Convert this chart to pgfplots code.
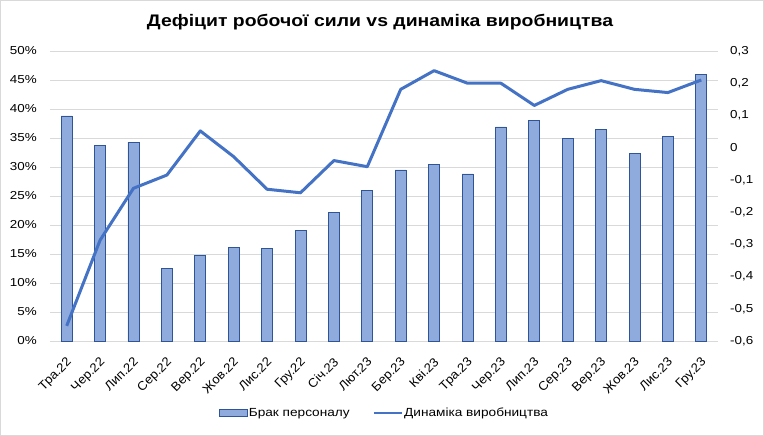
\documentclass[border=0pt]{standalone}
\usepackage{pgfplots}
\pgfplotsset{compat=1.18}
\usepackage{fontspec}
\setmainfont{Liberation Sans}[FakeStretch=1.16]
\newfontfamily\xlab{Liberation Sans}[FakeStretch=1.05]
\definecolor{barfill}{RGB}{143,170,220}
\definecolor{baredge}{RGB}{47,85,151}
\definecolor{linec}{RGB}{68,114,196}
\definecolor{gridc}{RGB}{217,217,217}
\pgfplotsset{
  barleg/.style={legend image code/.code={\draw[##1] (0bp,-3.5bp) rectangle (28bp,3.5bp);}},
  lineleg/.style={legend image code/.code={\draw[##1] (0bp,0bp) -- (28bp,0bp);}},
}
\begin{document}
\begin{tikzpicture}
\useasboundingbox (-50bp,-95bp) rectangle (714bp,341bp);
\draw[gridc, line width=1bp] (-49.5bp,-94.5bp) rectangle (713.5bp,340.5bp);
\node[font=\fontsize{16.8}{19}\selectfont\bfseries, anchor=base] at (330bp,314bp) {Дефіцит робочої сили vs динаміка виробництва};
\begin{axis}[
  scale only axis, width=668bp, height=290bp,
  xmin=-0.5, xmax=19.5, ymin=0, ymax=50,
  xtick={0,...,19},
  xticklabels={Тра.22,Чер.22,Лип.22,Сер.22,Вер.22,Жов.22,Лис.22,Гру.22,Січ.23,Лют.23,Бер.23,Кві.23,Тра.23,Чер.23,Лип.23,Сер.23,Вер.23,Жов.23,Лис.23,Гру.23},
  x tick label style={font=\xlab\fontsize{12.5}{14}\selectfont, anchor=north east, inner sep=1bp, xshift=-1bp, yshift=-14bp, rotate=45},
  ytick={0,5,...,50},
  yticklabels={0\%,5\%,10\%,15\%,20\%,25\%,30\%,35\%,40\%,45\%,50\%},
  y tick label style={font=\fontsize{11.6}{13}\selectfont, inner sep=0pt, xshift=-13bp},
  major tick length=0pt,
  axis line style={draw=none},
  ymajorgrids, grid style={gridc, line width=1bp},
  axis y line*=left,
  legend style={at={(0.5,-72bp)}, anchor=center, draw=none, font=\fontsize{11.8}{13}\selectfont, legend columns=2, /tikz/every even column/.append style={column sep=22bp}, inner sep=0pt, nodes={inner sep=1bp}},
  legend cell align=left,
]
\addplot[ybar, bar width=11bp, fill=barfill, draw=baredge, line width=0.8bp, barleg]
  coordinates {(0,38.8) (1,33.7) (2,34.3) (3,12.5) (4,14.8) (5,16.1) (6,15.9) (7,19.1) (8,22.1) (9,25.9) (10,29.5) (11,30.5) (12,28.8) (13,36.9) (14,38.0) (15,34.9) (16,36.5) (17,32.4) (18,35.3) (19,46.0)};
\addlegendentry{Брак персоналу}
\addlegendimage{linec, line width=2.5bp, lineleg}
\addlegendentry{Динаміка виробництва}
\end{axis}
\begin{axis}[
  scale only axis, width=668bp, height=290bp,
  xmin=-0.5, xmax=19.5, ymin=-0.6, ymax=0.3,
  axis x line=none,
  axis y line*=right,
  axis line style={draw=none},
  major tick length=0pt,
  ytick={-0.6,-0.5,-0.4,-0.3,-0.2,-0.1,0,0.1,0.2,0.3},
  yticklabels={{-0,6},{-0,5},{-0,4},{-0,3},{-0,2},{-0,1},0,{0,1},{0,2},{0,3}},
  y tick label style={font=\fontsize{11.6}{13}\selectfont, inner sep=0pt, anchor=west, xshift=12bp},
]
\addplot[linec, line width=3bp, line join=round] coordinates {(0,-0.553) (1,-0.287) (2,-0.126) (3,-0.085) (4,0.052) (5,-0.028) (6,-0.129) (7,-0.140) (8,-0.040) (9,-0.059) (10,0.181) (11,0.239) (12,0.200) (13,0.200) (14,0.131) (15,0.181) (16,0.208) (17,0.181) (18,0.171) (19,0.210)};
\end{axis}
\end{tikzpicture}
\end{document}
